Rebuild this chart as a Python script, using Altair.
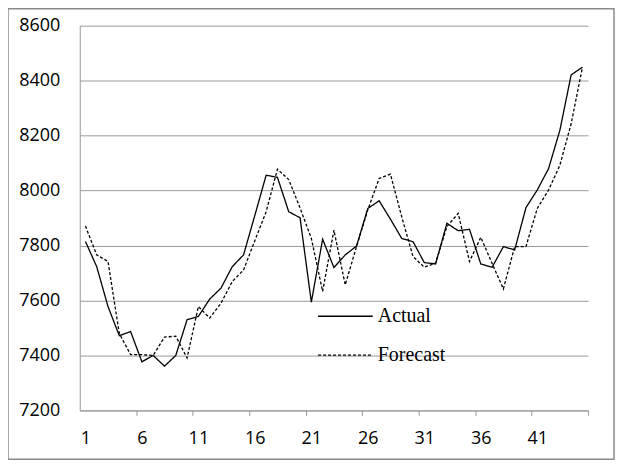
import altair as alt
import pandas as pd

periods = list(range(1, 46))
actual = [7815, 7723, 7578, 7472, 7487, 7377, 7400, 7361, 7400, 7530,
          7542, 7605, 7645, 7723, 7766, 7910, 8056, 8048, 7923, 7901,
          7594, 7823, 7720, 7766, 7798, 7935, 7963, 7896, 7826, 7814,
          7738, 7733, 7881, 7854, 7859, 7733, 7721, 7796, 7784, 7938,
          8002, 8080, 8219, 8421, 8449]
forecast = [7871, 7766, 7742, 7480, 7403, 7403, 7400, 7467, 7470, 7391,
            7578, 7536, 7590, 7669, 7711, 7818, 7923, 8078, 8040, 7937,
            7826, 7633, 7856, 7657, 7796, 7930, 8044, 8060, 7905, 7760,
            7721, 7736, 7869, 7917, 7742, 7830, 7735, 7642, 7796, 7796,
            7935, 8002, 8092, 8243, 8449]
series_names = ["Actual", "Forecast"]
x_tick_values = [5, 10, 15, 20, 25, 30, 35, 40, 45]
y_ticks = [7200, 7400, 7600, 7800, 8000, 8200, 8400, 8600]

df = pd.DataFrame({
    "period": periods * 2,
    "value": actual + forecast,
    "series": ["Actual"] * len(actual) + ["Forecast"] * len(forecast),
})

lines = alt.Chart(df).transform_calculate(
    pos="datum.period - 0.5"
).mark_line(color="black", strokeWidth=1.3).encode(
    x=alt.X("pos:Q",
            scale=alt.Scale(domain=[0, 45], nice=False, zero=False),
            axis=alt.Axis(values=x_tick_values, labelExpr="datum.value - 4",
                          labelOffset=-51, title=None, grid=False,
                          domainColor="#9a9a9a", tickColor="#9a9a9a",
                          tickSize=5, labelPadding=14, labelFont="Open Sans",
                          labelFontSize=18, labelColor="black",
                          labelOverlap=False, labelFlush=False)),
    y=alt.Y("value:Q",
            scale=alt.Scale(domain=[7200, 8600], nice=False, zero=False),
            axis=alt.Axis(values=y_ticks, title=None, grid=True, format="d",
                          gridColor="#9a9a9a", domainColor="#9a9a9a",
                          ticks=False, labelPadding=20, labelFont="Open Sans",
                          labelFontSize=18, labelColor="black",
                          labelOverlap=False)),
    strokeDash=alt.StrokeDash(
        "series:N",
        scale=alt.Scale(domain=series_names, range=[[1, 0], [3, 2]]),
        legend=alt.Legend(title=None, orient="none", legendX=238, legendY=263,
                          symbolType="stroke", symbolSize=3000,
                          symbolStrokeColor="black", symbolStrokeWidth=1.3,
                          labelFont="Liberation Serif", labelFontSize=20,
                          labelColor="black", rowPadding=-13, labelOffset=4)),
)

border = alt.Chart(pd.DataFrame({"k": [0]})).mark_rect(
    fill=None, stroke="#8a8a8a", strokeWidth=1.5
).encode(x=alt.value(-72), x2=alt.value(536), y=alt.value(-17), y2=alt.value(435))

chart = alt.layer(border, lines).properties(
    width=510, height=386,
    autosize=alt.AutoSizeParams(type="none"),
    padding={"left": 72, "top": 17, "right": 29, "bottom": 49},
    background="white",
).configure_view(stroke=None)

chart.save("out.html", embed_options={"renderer": "svg", "actions": False})
